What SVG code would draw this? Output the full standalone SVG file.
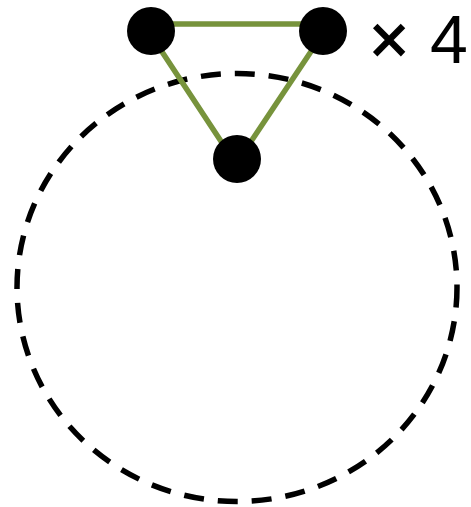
<svg xmlns="http://www.w3.org/2000/svg" width="471" height="507" viewBox="0 0 471 507">
<style>
.node{fill:#000}
.edge{stroke:#77933C;stroke-width:5.5;fill:none;stroke-linecap:round}
.ring{fill:none;stroke:#000;stroke-width:5.5;stroke-dasharray:20 14}
.lbl{font-family:"Liberation Sans",Arial,sans-serif;fill:#000;text-anchor:middle;font-size:68px}
</style>
<rect width="471" height="507" fill="#fff"/>
<ellipse id="ring" class="ring" cx="237" cy="287.5" rx="220" ry="214"/>
<g id="connectors">
<line class="edge" x1="145" y1="24" x2="328" y2="24"/>
<line class="edge" x1="145" y1="26" x2="236" y2="164"/>
<line class="edge" x1="328" y1="26" x2="236" y2="164"/>
</g>
<g id="n1"><circle class="node" cx="151" cy="31" r="24"/></g>
<g id="n2"><circle class="node" cx="323" cy="31" r="24"/></g>
<g id="n3"><circle class="node" cx="237" cy="159" r="24"/></g>
<g id="label"><text class="lbl" x="389" y="63" stroke="#000" stroke-width="1.5">×</text><text class="lbl" x="449" y="63">4</text></g>
</svg>
